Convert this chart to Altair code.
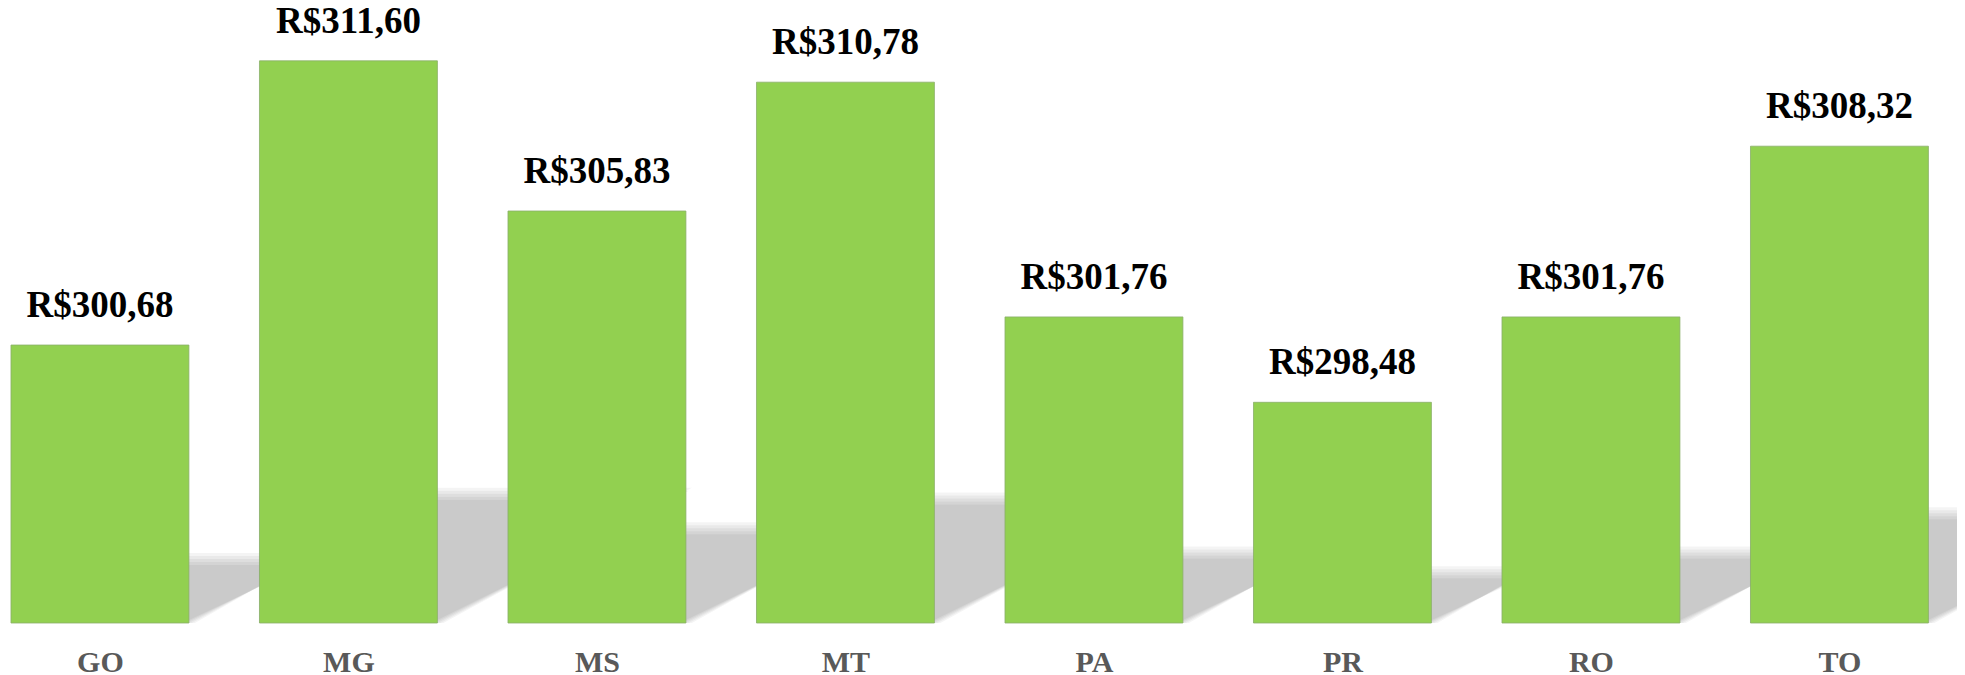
import altair as alt
import pandas as pd

# ---- data ----
states = ["GO", "MG", "MS", "MT", "PA", "PR", "RO", "TO"]
prices = [300.68, 311.60, 305.83, 310.78, 301.76, 298.48, 301.76, 308.32]

# ---- layout / style constants ----
BASE = 290.0          # value where bars start
Y_TOP = 313.63        # top of the value scale
X_MIN, X_MAX = -0.370, 7.473
HALF = 0.358          # half bar width in category-index units
SHADOW_H = 0.23       # shadow height relative to bar height
SHADOW_SKEW = 0.0463  # horizontal reach (index units) per value unit of bar height
PX_X = 1 / 248.5      # one pixel in index units
PX_Y = 1 / 26.03      # one pixel in value units
BLUR = [-6, -3, 0, 3, 6]   # soft-edge passes, pixels
ALPHA = 1 - 0.8 ** (1 / len(BLUR))

bars = pd.DataFrame({"state": states, "price": prices, "i": list(range(len(states)))})

rows = []
for s, p, i in zip(states, prices, range(len(states))):
    h = p - BASE
    for j, b in enumerate(BLUR):
        key = f"{s}-{j}"
        rows.append({"key": key, "y": BASE, "x": i - HALF, "x2": i + HALF + b * PX_X})
        rows.append({"key": key, "y": BASE + SHADOW_H * h + b * PX_Y,
                     "x": i - HALF, "x2": i + HALF + SHADOW_SKEW * h + b * PX_X})
shadow = pd.DataFrame(rows)

xscale = alt.Scale(domain=[X_MIN, X_MAX], nice=False, zero=False)
yscale = alt.Scale(domain=[BASE, Y_TOP], nice=False, zero=False)

label_expr = "[" + ",".join(f"'{s}'" for s in states) + "][datum.value]"

shadow_layer = alt.Chart(shadow).mark_area(
    orient="horizontal", color="#000000", fillOpacity=ALPHA
).encode(
    y=alt.Y("y:Q", scale=yscale, axis=None),
    x=alt.X("x:Q", scale=xscale,
            axis=alt.Axis(values=list(range(len(states))), labelExpr=label_expr,
                          title=None, domain=False, ticks=False, tickSize=0, grid=False,
                          labelFont="Liberation Serif", labelFontWeight="bold",
                          labelFontSize=30, labelColor="#595959", labelPadding=24)),
    x2="x2:Q",
    detail="key:N",
)

bar_layer = alt.Chart(bars).transform_calculate(
    lo=f"datum.i - {HALF}", hi=f"datum.i + {HALF}"
).mark_rect(color="#92D050", stroke="#8AAE6A", strokeWidth=0.8).encode(
    x=alt.X("lo:Q", scale=xscale),
    x2="hi:Q",
    y=alt.Y("price:Q", scale=yscale),
    y2=alt.datum(BASE),
)

text_layer = alt.Chart(bars).transform_calculate(
    label="'R$' + replace(format(datum.price, '.2f'), '.', ',')"
).mark_text(
    font="Liberation Serif", fontWeight="bold", fontSize=37,
    baseline="alphabetic", dy=-28, color="#000000"
).encode(
    x=alt.X("i:Q", scale=xscale),
    y=alt.Y("price:Q", scale=yscale),
    text="label:N",
)

chart = alt.layer(shadow_layer, bar_layer, text_layer).properties(
    width=1949, height=615,
    autosize=alt.AutoSizeParams(type="none"),
    padding={"left": 0, "top": 0, "right": 0, "bottom": 52},
    view=alt.ViewBackground(strokeWidth=0, strokeOpacity=0, stroke="transparent"),
).configure_view(stroke="transparent", strokeWidth=0, strokeOpacity=0).configure(background="white")

chart.save("out.html", embed_options={"renderer": "svg", "actions": False})
